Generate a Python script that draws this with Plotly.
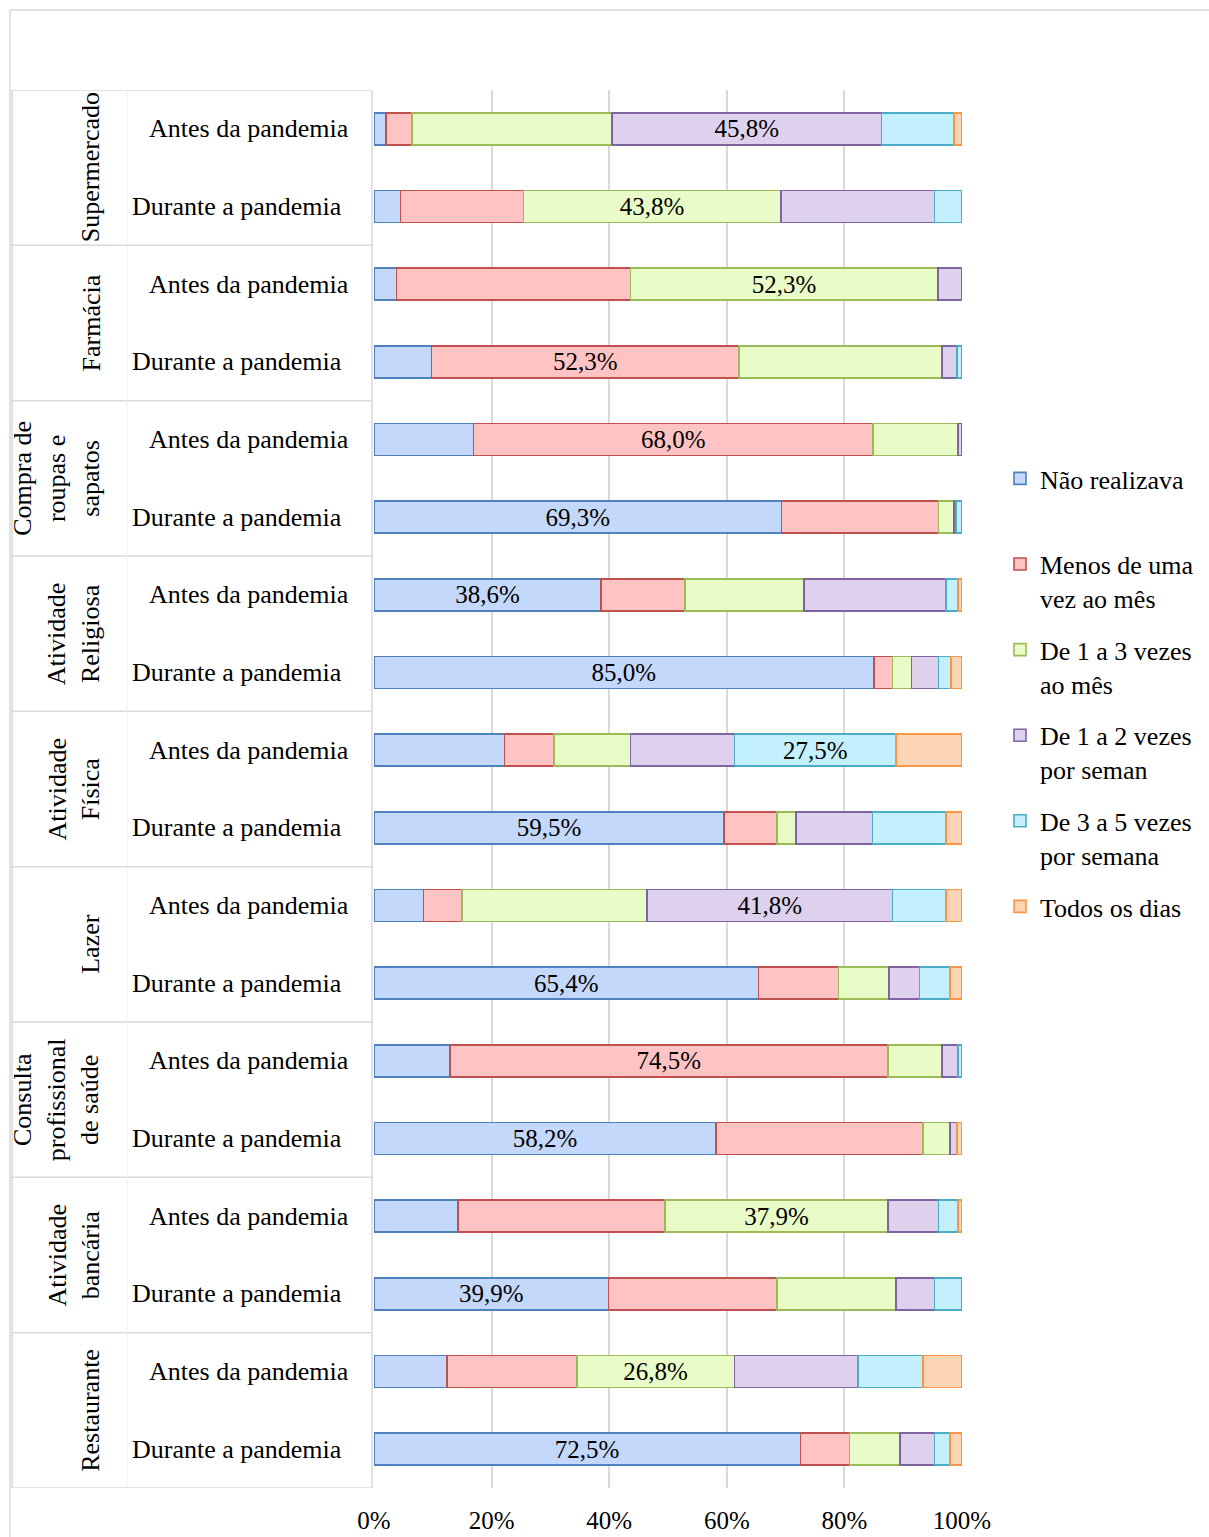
import plotly.graph_objects as go

# Activities (groups) and the two periods compared inside each group
groups = ["Supermercado", "Farmácia", "Compra de<br>roupas e<br>sapatos",
          "Atividade<br>Religiosa", "Atividade<br>Física", "Lazer",
          "Consulta<br>profissional<br>de saúde", "Atividade<br>bancária", "Restaurante"]
periods = ["Antes da pandemia", "Durante a pandemia"]

# Frequency shares (%) per bar, ordered group by group: Antes, Durante
nao_realizava = [2.0, 4.5, 3.8, 9.8, 16.9, 69.3, 38.6, 85.0, 22.2, 59.5, 8.4, 65.4, 12.9, 58.2, 14.3, 39.9, 12.4, 72.5]
menos_uma_mes = [4.5, 20.9, 39.8, 52.3, 68.0, 26.7, 14.3, 3.2, 8.4, 9.0, 6.6, 13.6, 74.5, 35.2, 35.2, 28.6, 22.1, 8.4]
um_a_tres_mes = [34.0, 43.8, 52.3, 34.5, 14.4, 2.6, 20.2, 3.2, 13.0, 3.3, 31.4, 8.6, 9.2, 4.6, 37.9, 20.3, 26.8, 8.6]
um_a_dois_sem = [45.8, 26.1, 4.1, 2.5, 0.7, 0.4, 24.2, 4.6, 17.7, 13.0, 41.8, 5.2, 2.7, 1.1, 8.6, 6.5, 21.0, 5.8]
tres_a_cinco_sem = [12.3, 4.7, 0.0, 0.9, 0.0, 1.0, 2.0, 2.1, 27.5, 12.5, 9.1, 5.2, 0.7, 0.0, 3.3, 4.7, 11.1, 2.7]
todos_os_dias = [1.4, 0.0, 0.0, 0.0, 0.0, 0.0, 0.7, 1.9, 11.2, 2.7, 2.7, 2.0, 0.0, 0.9, 0.7, 0.0, 6.6, 2.0]

# Axis ticks
x_ticks = [0, 20, 40, 60, 80, 100]
x_tick_labels = ["0%", "20%", "40%", "60%", "80%", "100%"]

series_names = ["Não realizava<br> ", "Menos de uma<br>vez ao mês", "De 1 a 3 vezes<br>ao mês",
                "De 1 a 2 vezes<br>por seman", "De 3 a 5 vezes<br>por semana", "Todos os dias"]
series_values = [nao_realizava, menos_uma_mes, um_a_tres_mes, um_a_dois_sem, tres_a_cinco_sem, todos_os_dias]
fill_colors = ["#c4d8fb", "#ffc3c3", "#e9fbc6", "#ddd1ee", "#c4effc", "#fed5b4"]
line_colors = ["#4f81bd", "#c0504d", "#9bbb59", "#8064a2", "#4bacc6", "#f79646"]

FONT = "Liberation Serif, Times New Roman, serif"
n_bars = len(nao_realizava)
ypos = list(range(n_bars))

# Only the largest segment of each bar carries its value label
largest = [max(range(len(series_values)), key=lambda s: series_values[s][i]) for i in range(n_bars)]

def fmt(v):
    return f"{v:.1f}".replace(".", ",") + "%"

fig = go.Figure()
for s, (name, vals) in enumerate(zip(series_names, series_values)):
    fig.add_trace(go.Bar(
        orientation="h",
        y=ypos,
        x=[v if v > 0 else None for v in vals],
        name=name,
        legendgroup=f"g{s}",
        width=0.41,
        marker=dict(color=fill_colors[s], line=dict(color=line_colors[s], width=1.6)),
        text=[fmt(vals[i]) if largest[i] == s else "" for i in range(n_bars)],
        textposition="inside",
        insidetextanchor="middle",
        constraintext="none",
        textangle=0,
        textfont=dict(family=FONT, size=25, color="black"),
        hoverinfo="x+name",
    ))

# Pixel geometry of the plot area, used to place the category table
PLOT_L, PLOT_R = 374, 962
PLOT_W = PLOT_R - PLOT_L
PLOT_T, PLOT_B = 90, 1488
PLOT_H = PLOT_B - PLOT_T

def px(x):
    return (x - PLOT_L) / PLOT_W

def py(y):
    return 1 - (y - PLOT_T) / PLOT_H

grid = "#d9d9d9"
shapes = []
# Horizontal separators of the category table
for k in range(len(groups) + 1):
    yb = -0.5 + 2 * k
    shapes.append(dict(type="line", xref="paper", yref="y", x0=px(12), x1=px(372),
                       y0=yb, y1=yb, line=dict(color=grid, width=1.5)))
# Vertical lines of the category table
for xv in (12, 372):
    shapes.append(dict(type="line", xref="paper", yref="y", x0=px(xv), x1=px(xv),
                       y0=-0.5, y1=n_bars - 0.5, line=dict(color=grid, width=1.5)))
shapes.append(dict(type="line", xref="paper", yref="y", x0=px(127), x1=px(127),
                   y0=-0.5, y1=n_bars - 0.5, line=dict(color="#f0f0f0", width=1)))
# Outer frame of the chart area
shapes.append(dict(type="line", xref="paper", yref="paper", x0=px(10), x1=px(1209),
                   y0=py(10), y1=py(10), line=dict(color=grid, width=1.5)))
shapes.append(dict(type="line", xref="paper", yref="paper", x0=px(10), x1=px(10),
                   y0=py(10), y1=py(1537), line=dict(color=grid, width=1.5)))

annotations = []
for g, label in enumerate(groups):
    annotations.append(dict(
        text=label, xref="paper", yref="y", x=px(107), y=2 * g + 0.5,
        xanchor="right", yanchor="middle", textangle=-90, showarrow=False,
        font=dict(family=FONT, size=26, color="black"), align="center"))
    for p, per in enumerate(periods):
        annotations.append(dict(
            text=per, xref="paper", yref="y", x=px(249 if p == 0 else 237), y=2 * g + p,
            xanchor="center", yanchor="middle", showarrow=False,
            font=dict(family=FONT, size=26, color="black")))

fig.update_layout(
    barmode="stack",
    width=1209, height=1537,
    margin=dict(l=PLOT_L, r=1209 - PLOT_R, t=PLOT_T, b=1537 - PLOT_B, autoexpand=False),
    paper_bgcolor="white", plot_bgcolor="white",
    font=dict(family=FONT, size=26, color="black"),
    showlegend=True,
    legend=dict(x=px(1000), y=py(455), xanchor="left", yanchor="top",
                font=dict(family=FONT, size=26, color="black"),
                valign="top", tracegroupgap=15, traceorder="grouped",
                bgcolor="rgba(0,0,0,0)"),
    xaxis=dict(range=[0, 100], tickmode="array", tickvals=x_ticks, ticktext=x_tick_labels,
               showgrid=True, gridcolor=grid, gridwidth=1.5, zeroline=False, showline=False,
               ticks="outside", ticklen=10, tickcolor="rgba(0,0,0,0)", automargin=False,
               tickfont=dict(family=FONT, size=25, color="black"), fixedrange=True),
    yaxis=dict(range=[n_bars - 0.5, -0.5], showticklabels=False, showgrid=False,
               zeroline=False, showline=False, ticks="", fixedrange=True, automargin=False),
    shapes=shapes,
    annotations=annotations,
)

fig.write_html("out.html")
